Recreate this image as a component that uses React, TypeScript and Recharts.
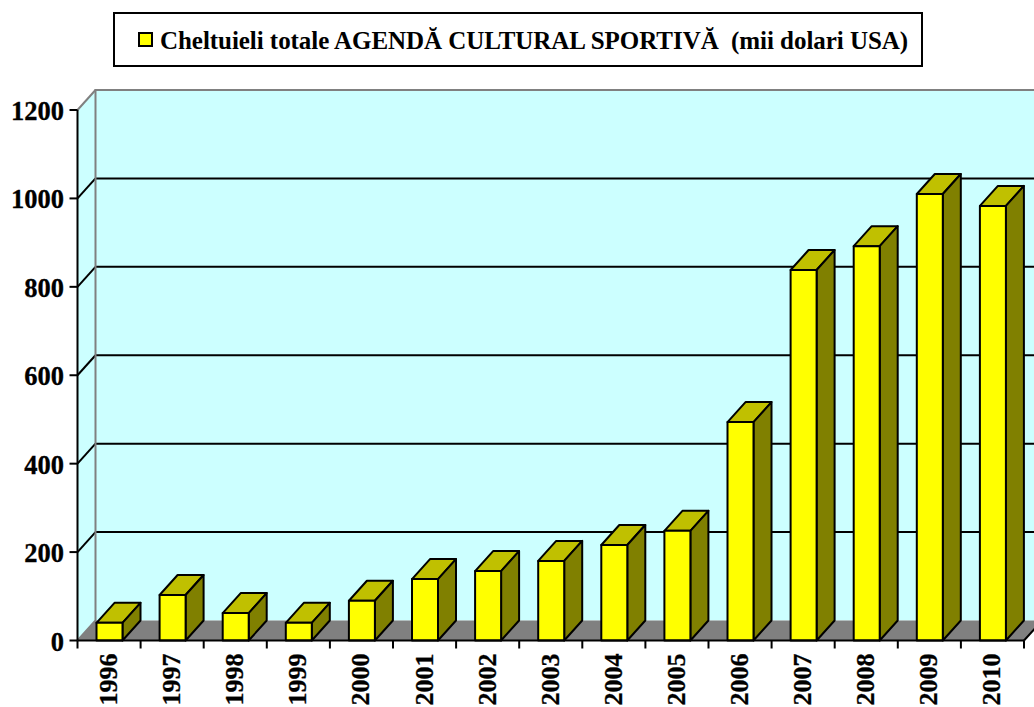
import React from "react";
import { BarChart, Bar, XAxis, YAxis, Legend, usePlotArea } from "recharts";

const years = ["1996","1997","1998","1999","2000","2001","2002","2003","2004","2005","2006","2007","2008","2009","2010"];
const spending = [40,103,62,40,90,139,157,180,216,248,494,838,892,1010,983];
const yTicks = [0,200,400,600,800,1000,1200];
const seriesName = "Cheltuieli totale AGENDĂ CULTURAL SPORTIVĂ  (mii dolari USA)";
const data = years.map((year, i) => ({ year, value: spending[i] }));

const FONT = "'Liberation Serif', 'Times New Roman', serif";
const DX = 18;
const DY = 20;
const MAX = 1200;

function Walls() {
  const p = usePlotArea();
  if (!p) return null;
  const { x, y, width, height } = p;
  const b = y + height;
  const r = x + width;
  const yAt = (v: number) => b - (v / MAX) * height;
  return (
    <g>
      <rect x={x + DX} y={y - DY} width={width} height={height} fill="#CCFFFF" />
      <polygon points={`${x},${y} ${x + DX},${y - DY} ${x + DX},${b - DY} ${x},${b}`} fill="#CCFFFF" />
      <polygon points={`${x},${b} ${x + DX},${b - DY} ${r + DX},${b - DY} ${r},${b}`} fill="#808080" />
      {yTicks.filter((v) => v > 0 && v < MAX).map((v) => (
        <g key={v} stroke="#000" strokeWidth={2}>
          <line x1={x} y1={yAt(v)} x2={x + DX} y2={yAt(v) - DY} />
          <line x1={x + DX} y1={yAt(v) - DY} x2={r + DX} y2={yAt(v) - DY} />
        </g>
      ))}
      <polyline points={`${x},${b} ${x + DX},${b - DY} ${x + DX},${y - DY} ${r + DX},${y - DY}`} fill="none" stroke="#808080" strokeWidth={2} />
      <line x1={x} y1={y} x2={x + DX} y2={y - DY} stroke="#808080" strokeWidth={2} />
      <line x1={r} y1={b} x2={r + DX} y2={b - DY} stroke="#000" strokeWidth={2} />
      {years.map((_, i) => (
        <line key={i} x1={x + (i * width) / years.length} y1={b} x2={x + (i * width) / years.length} y2={b + 8} stroke="#000" strokeWidth={2} />
      ))}
      <line x1={r} y1={b} x2={r} y2={b + 8} stroke="#000" strokeWidth={2} />
    </g>
  );
}

function Bar3D(props: any) {
  const { x, y, width, height } = props;
  const b = y + height;
  const r = x + width;
  return (
    <g stroke="#000" strokeWidth={2} strokeLinejoin="round">
      <polygon points={`${x},${y} ${x + DX},${y - DY} ${r + DX},${y - DY} ${r},${y}`} fill="#C0C000" />
      <polygon points={`${r},${y} ${r + DX},${y - DY} ${r + DX},${b - DY} ${r},${b}`} fill="#808000" />
      <rect x={x} y={y} width={width} height={height} fill="#FFFF00" />
    </g>
  );
}

function YearTick(props: any) {
  const { x, y, payload } = props;
  return (
    <text
      transform={`translate(${x + 8},${y + 5}) rotate(-90)`}
      textAnchor="end"
      fontFamily={FONT}
      fontWeight="bold"
      fontSize={26}
      stroke="#000"
      strokeWidth={0.3}
      fill="#000"
    >
      {payload.value}
    </text>
  );
}

function ValueTick(props: any) {
  const { y, payload } = props;
  return (
    <text x={64} y={y + 10} textAnchor="end" fontFamily={FONT} fontWeight="bold" fontSize={26.5} stroke="#000" strokeWidth={0.3} fill="#000">
      {payload.value}
    </text>
  );
}

function LegendBox(props: any) {
  const name = props.payload?.[0]?.value ?? seriesName;
  return (
    <div
      style={{
        boxSizing: "border-box",
        width: 810,
        height: 55,
        border: "2px solid #000",
        position: "relative",
        background: "#fff",
        fontFamily: FONT,
        fontWeight: "bold",
        fontSize: 25,
        whiteSpace: "pre",
        color: "#000",
      }}
    >
      <span
        style={{
          position: "absolute",
          left: 23,
          top: 18,
          width: 15,
          height: 15,
          boxSizing: "border-box",
          background: "#FFFF00",
          border: "2px solid #000",
        }}
      />
      <span style={{ position: "absolute", left: 45, top: 13, lineHeight: "27px", letterSpacing: "-0.05px" }}>{name}</span>
    </div>
  );
}

export default function App() {
  return (
    <div style={{ position: "absolute", left: 0, top: 0, width: 1034, height: 707, overflow: "hidden", background: "#fff" }}>
      <BarChart
        width={1034}
        height={707}
        data={data}
        barSize={26}
        margin={{ top: 55, right: 10, bottom: 0, left: 0 }}
      >
        <Walls />
        <XAxis
          dataKey="year"
          interval={0}
          height={66.5}
          tickLine={false}
          axisLine={{ stroke: "#000", strokeWidth: 2 }}
          tick={<YearTick />}
        />
        <YAxis
          width={77.5}
          domain={[0, MAX]}
          ticks={yTicks}
          tickSize={8}
          axisLine={{ stroke: "#000", strokeWidth: 2 }}
          tickLine={{ stroke: "#000", strokeWidth: 2 }}
          tick={<ValueTick />}
        />
        <Legend
          verticalAlign="top"
          content={<LegendBox />}
          wrapperStyle={{ position: "absolute", left: 113, top: 12, width: 810, height: 55 }}
        />
        <Bar dataKey="value" name={seriesName} fill="#FFFF00" isAnimationActive={false} shape={<Bar3D />} />
      </BarChart>
    </div>
  );
}
